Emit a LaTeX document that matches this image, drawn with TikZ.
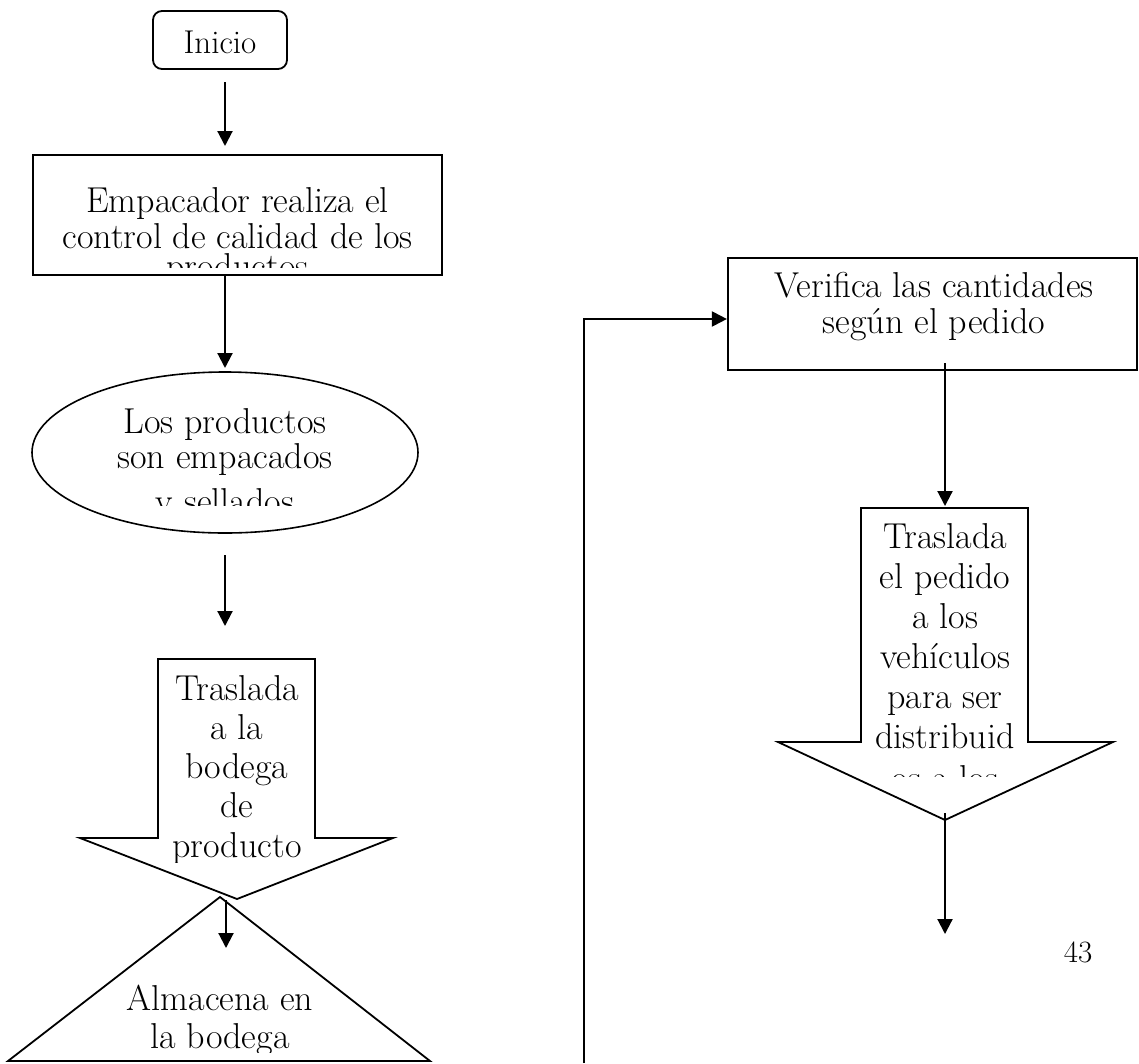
\documentclass[tikz,border=0pt]{standalone}
\usetikzlibrary{arrows.meta,shapes.geometric,calc}

\begin{document}
\begin{tikzpicture}[x=1pt,y=-1pt,
  shp/.style={draw, line width=2.2pt, inner sep=0pt},
  outline/.style={draw, line width=1.8pt, line join=miter},
  arr/.style={line width=2.1pt, -{Triangle[length=15pt,width=15pt]}},
  txt/.style={inner sep=0pt, anchor=base, font=\fontsize{36}{#1}\selectfont},
]
\useasboundingbox[fill=white] (0,0) rectangle (1139,1063);

% ---- left column ----
\node[shp, line width=1.8pt, rounded corners=9pt, minimum width=134pt, minimum height=58pt] (inicio) at (220,40) {};
\node[inner sep=0pt, anchor=base, font=\fontsize{33}{36}\selectfont] (tinicio) at (220,53) {Inicio};

\node[shp, minimum width=409pt, minimum height=120pt] (control) at (237.5,215) {};
\begin{scope}
  \clip (36,158) rectangle (439,267);
  \node[txt=36] (tcontrol) at (237.5,212)
    {\begin{tabular}[t]{@{}c@{}}Empacador realiza el\\control de calidad de los\\[-6pt]productos\end{tabular}};
\end{scope}

\node[shp, ellipse, line width=1.6pt, minimum width=386pt, minimum height=161pt] (empaque) at (225,452.5) {};
\begin{scope}
  \clip (60,380) rectangle (390,505);
  \node[txt=35] (tempaque) at (225,433)
    {\begin{tabular}[t]{@{}c@{}}Los productos\\son empacados\\[10pt]y sellados\end{tabular}};
\end{scope}

% block arrow: move to the product store
\draw[outline] (158,659) -- (315,659) -- (315,838) -- (393,838) -- (237,899)
  -- (80,838) -- (158,838) -- cycle;
\begin{scope}
  \clip (160,662) rectangle (313,862);
  \node[txt=39.3] (ttraslada) at (237,700)
    {\begin{tabular}[t]{@{}c@{}}Traslada\\a la\\bodega\\de\\producto\end{tabular}};
\end{scope}

% storage triangle
\draw[outline] (220,897) -- (430,1061) -- (8,1061) -- cycle;
\begin{scope}
  \clip (90,950) rectangle (350,1052);
  \node[txt=38] (talmacena) at (220,1010)
    {\begin{tabular}[t]{@{}c@{}}Almacena en\\la bodega\end{tabular}};
\end{scope}

% ---- right column ----
\node[shp, minimum width=409pt, minimum height=112pt] (verifica) at (932.5,314) {};
\node[txt=36] (tverifica) at (934,297)
  {\begin{tabular}[t]{@{}c@{}}Verifica las cantidades\\según el pedido\end{tabular}};

% block arrow: move the order to the vehicles
\draw[outline] (861,508) -- (1028,508) -- (1028,742) -- (1113,742) -- (945,820)
  -- (778,742) -- (861,742) -- cycle;
\begin{scope}
  \clip (863,511) rectangle (1026,776);
  \node[txt=40] (tpedido) at (945,548)
    {\begin{tabular}[t]{@{}c@{}}Traslada\\el pedido\\a los\\vehículos\\para ser\\distribuid\\[2pt]os a los\end{tabular}};
\end{scope}

\node[inner sep=0pt, anchor=base, font=\fontsize{31}{36}\selectfont] (pagina) at (1078,962) {43};

% ---- connectors ----
\coordinate (a1s) at (225,82);
\coordinate (a1e) at (225,146);
\coordinate (a2e) at (225,368);
\coordinate (a3s) at (225,555);
\coordinate (a3e) at (225,626);
\coordinate (a4s) at (226,900);
\coordinate (a4e) at (226,948);
\coordinate (a5s) at (945,363);
\coordinate (a5e) at (945,506);
\coordinate (a6s) at (945,813);
\coordinate (a6e) at (945,934);
\coordinate (lazo) at (584,1063);

\draw[arr] (a1s) -- (a1e);
\draw[arr] (control.south -| a2e) -- (a2e);
\draw[arr] (a3s) -- (a3e);
\draw[arr] (a4s) -- (a4e);
\draw[arr] (a5s) -- (a5e);
\draw[arr] (a6s) -- (a6e);
\draw[arr] (lazo) |- ([yshift=-5pt]verifica.west);
\end{tikzpicture}
\end{document}
